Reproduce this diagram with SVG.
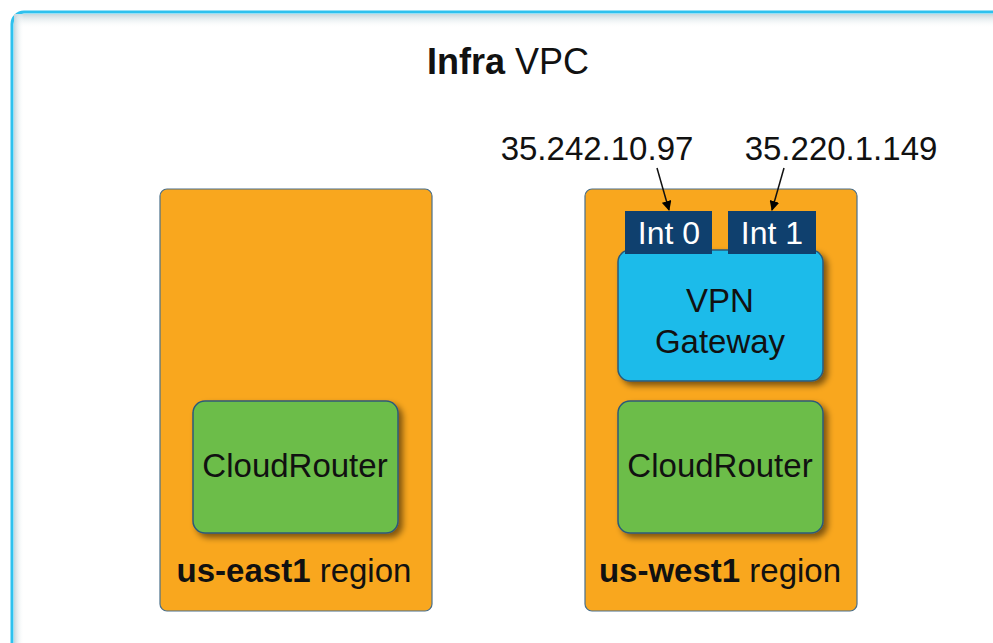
<svg xmlns="http://www.w3.org/2000/svg" width="993" height="643" viewBox="0 0 993 643">
<defs>
<linearGradient id="topsh" x1="0" y1="0" x2="0" y2="1"><stop offset="0" stop-color="#c5d6dc"/><stop offset="1" stop-color="#ffffff" stop-opacity="0"/></linearGradient>
<linearGradient id="leftsh" x1="0" y1="0" x2="1" y2="0"><stop offset="0" stop-color="#c5d6dc"/><stop offset="1" stop-color="#ffffff" stop-opacity="0"/></linearGradient>
<filter id="sh" x="-10%" y="-10%" width="130%" height="130%"><feGaussianBlur in="SourceAlpha" stdDeviation="3"/><feOffset dx="4" dy="4"/><feComponentTransfer><feFuncA type="linear" slope="0.5"/></feComponentTransfer><feMerge><feMergeNode/><feMergeNode in="SourceGraphic"/></feMerge></filter>
<marker id="arr" viewBox="0 0 10 10" refX="9" refY="5" markerWidth="10" markerHeight="10" markerUnits="userSpaceOnUse" orient="auto"><path d="M0,0 L10,5 L0,10 z" fill="#000"/></marker>
</defs>
<style>
text{font-family:"Liberation Sans",Arial,sans-serif;fill:#111}
.region{fill:#f9a71e;stroke:#4a6f8a;stroke-width:1.2}
.router{fill:#6cbd4a;stroke:#2c5a7a;stroke-width:1.5}
.vpn{fill:#1fbbea;stroke:#2c5a7a;stroke-width:1.5}
.intf{fill:#0f406e}
.lbl{font-size:33px;text-anchor:middle}
.ip{font-size:33px;text-anchor:middle}
.it{font-size:32px;text-anchor:middle;fill:#fff}
.conn{stroke:#111;stroke-width:1.5;fill:none;marker-end:url(#arr)}
</style>
<rect width="993" height="643" fill="#fff"/>
<g id="vpc">
<rect x="12" y="12" width="1000" height="660" rx="12" fill="#fff" stroke="#2ec1ee" stroke-width="3"/>
<rect x="14" y="14" width="990" height="14" fill="url(#topsh)"/>
<rect x="14" y="14" width="10" height="640" fill="url(#leftsh)"/>
<text x="508" y="74" font-size="36" text-anchor="middle"><tspan font-weight="bold">Infra</tspan> VPC</text>
</g>
<g id="us-east1">
<rect class="region" x="160" y="189" width="272" height="422" rx="7"/>
<text class="lbl" x="294" y="582"><tspan font-weight="bold">us-east1</tspan> region</text>
</g>
<g id="us-west1">
<rect class="region" x="585" y="189" width="272" height="422" rx="7"/>
<text class="lbl" x="720" y="582"><tspan font-weight="bold">us-west1</tspan> region</text>
</g>
<g id="cr-east">
<rect class="router" x="193" y="401" width="205" height="132" rx="12" filter="url(#sh)"/>
<text class="lbl" x="295" y="477">CloudRouter</text>
</g>
<g id="cr-west">
<rect class="router" x="618" y="401" width="205" height="132" rx="12" filter="url(#sh)"/>
<text class="lbl" x="720" y="477">CloudRouter</text>
</g>
<g id="vpn-gw">
<rect class="vpn" x="618" y="250" width="205" height="131" rx="12" filter="url(#sh)"/>
<text class="lbl" x="720" y="312">VPN</text>
<text class="lbl" x="720" y="353">Gateway</text>
</g>
<g id="int0">
<rect class="intf" x="625" y="211" width="87" height="43"/>
<text class="it" x="669" y="244">Int 0</text>
</g>
<g id="int1">
<rect class="intf" x="728" y="211" width="88" height="43"/>
<text class="it" x="772" y="244">Int 1</text>
</g>
<g id="ip0"><text class="ip" x="597" y="160">35.242.10.97</text></g>
<g id="ip1"><text class="ip" x="841" y="160">35.220.1.149</text></g>
<g id="connectors">
<line class="conn" x1="657" y1="168" x2="669" y2="210"/>
<line class="conn" x1="784" y1="168" x2="772" y2="210"/>
</g>
</svg>
